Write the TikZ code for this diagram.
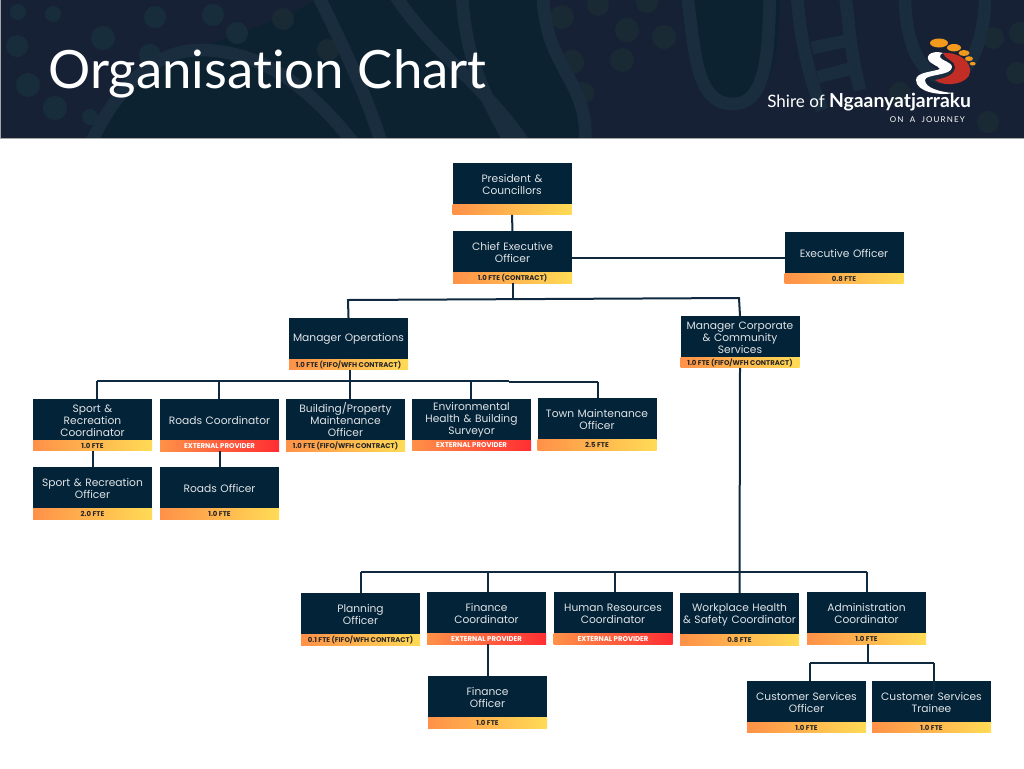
\documentclass[tikz,border=0pt]{standalone}
\usepackage{fontspec}
\setmainfont{Poppins}
\newfontfamily\titlefont[Ligatures=CommonOff]{Lato}
\newfontfamily\mottofont[LetterSpace=14]{Lato}
\usepackage{tikz}
\usetikzlibrary{positioning}
\definecolor{boxnavy}{HTML}{032338}
\definecolor{linenavy}{HTML}{0F2A40}
\definecolor{headdark}{HTML}{0C2231}
\definecolor{headmid}{HTML}{172135}
\definecolor{bandblue}{HTML}{192D3E}
\definecolor{dotblue}{HTML}{172D3C}
\definecolor{dotgreen}{HTML}{1A2A34}
\definecolor{barorange}{HTML}{FF9148}
\definecolor{baryellow}{HTML}{FFDB55}
\definecolor{barred}{HTML}{FF2E33}
\definecolor{toeorange}{HTML}{F39A1E}
\definecolor{footred}{HTML}{C22D26}
\tikzset{
  staffbox/.style={fill=boxnavy,text=white!88!boxnavy,minimum width=89.25pt,minimum height=31pt,inner sep=0pt,outer sep=0pt,
    text width=89pt,text height=7.1pt,align=center,font=\fontsize{8}{9}\selectfont},
  ftebar/.style={left color=barorange,right color=baryellow,text=black!85,minimum width=89.25pt,minimum height=8pt,inner sep=0pt,outer sep=0pt,
    font=\fontsize{5.2}{5.5}\selectfont\bfseries},
  extbar/.style={ftebar,right color=barred,text=white},
  orgline/.style={draw=linenavy,line width=1.5pt},
  bandline/.style={draw=bandblue,line width=9.5pt}
}
\begin{document}
\begin{tikzpicture}[x=0.75pt,y=-0.75pt]
    \useasboundingbox (0,0) rectangle (1024,768);
    \fill[white] (0,0) rectangle (1024,768);
    \fill[headdark] (0,0) rectangle (1024,138);
    \begin{scope}
        \clip (1,0) rectangle (1024,138);
        \fill[headmid] (0,0) -- (315,0) .. controls (250,40) and (130,50) .. (90,138) -- (0,138) -- cycle;
        \fill[headmid] (540,0) -- (680,0) .. controls (690,60) and (700,110) .. (733,110) .. controls (770,110) and (780,50) .. (780,0) -- (1024,0) -- (1024,138) -- (590,138) .. controls (590,90) and (550,60) .. (540,0) -- cycle;
        \foreach \x/\y/\r in {18/12/8,53/14/8,17/46/11,28/85/12,55/108/12,103/38/12,155/17/11,213/15/11,237/33/11,150/55/11,90/117/8}{
            \fill[dotblue] (\x,\y) circle (\r);
        }
        \foreach \x/\y/\r in {283/19/11,328/50/11,562/17/12,598/5/11,627/30/12,647/2/11,664/37/12,572/62/12,622/60/12,583/93/11,993/38/11,1020/33/11,1017/73/11,988/122/11,900/93/11}{
            \fill[dotgreen] (\x,\y) circle (\r);
        }
        \draw[bandline] (90,145) .. controls (120,80) and (160,50) .. (200,50) .. controls (270,50) and (320,100) .. (355,145);
        \draw[bandline] (318,-5) .. controls (340,40) and (365,90) .. (382,145);
        \draw[bandline] (395,-5) .. controls (430,50) and (490,90) .. (525,145);
        \draw[bandline] (462,-5) .. controls (465,50) and (480,90) .. (512,145);
        \draw[bandline] (543,-5) .. controls (545,70) and (590,80) .. (585,145);
        \draw[bandline] (687,-5) .. controls (695,50) and (695,104) .. (733,104) .. controls (770,104) and (768,40) .. (770,-5);
        \draw[bandline] (797,-5) .. controls (800,40) and (810,80) .. (822,110);
        \draw[bandline] (845,-5) .. controls (850,30) and (850,50) .. (860,90);
        \draw[bandline] (905,-5) .. controls (905,50) and (925,78) .. (945,78) .. controls (970,78) and (985,40) .. (985,-5);
        \draw[bandline] (812,48) -- (850,40);
        \draw[bandline] (818,77) -- (853,68);
    \end{scope}
    \fill[black!35] (0,0) rectangle (1,138);
    \fill[black!35] (0,138) rectangle (1024,139);
    \node (charttitle) [anchor=base west,text=white,inner sep=0pt,font=\titlefont\fontsize{39.6}{40}\selectfont] at (48,88) {Organisation Chart};
    \fill[toeorange] (939,43) ellipse (9 and 4.5);
    \fill[toeorange] (954,47.7) ellipse (7 and 3.7);
    \fill[toeorange] (964,53) ellipse (5.5 and 3);
    \fill[toeorange] (969,58.7) ellipse (4 and 2.4);
    \fill[toeorange] (972.7,63.7) ellipse (3 and 1.8);
    \fill[footred] (943,53) .. controls (960,52) and (971,62) .. (970,72) .. controls (969,84) and (945,88) .. (935,80) .. controls (945,78) and (955,75) .. (955,67) .. controls (955,60) and (945,60) .. (943,53) -- cycle;
    \fill[white] (938,52) .. controls (926,52) and (925,60) .. (933,64) .. controls (936,66) and (939,67) .. (940,69) .. controls (933,72) and (916,72) .. (916,80) .. controls (916,92) and (940,96) .. (953,93) .. controls (940,92) and (925,88) .. (925,80) .. controls (925,74) and (952,76) .. (952,67) .. controls (952,62) and (940,60) .. (940,57) .. controls (940,55) and (941,53) .. (943,53) -- cycle;
    \node (shirename) [anchor=base west,text=white,inner sep=0pt,font=\titlefont\fontsize{12.8}{13}\selectfont] at (767,107) {Shire of {\fontsize{14.5}{13}\selectfont\bfseries Ngaanyatjarraku}};
    \node (shiremotto) [anchor=base east,text=white,inner sep=0pt,font=\mottofont\fontsize{6}{6}\selectfont] at (965,122) {ON\ \ A\ \ JOURNEY};

    \node (pres) [staffbox] at (512,183.5) {President \&\\Councillors};
    \node (presfte) [ftebar,below=0pt of pres] {};
    \node (ceo) [staffbox] at (512.5,252) {Chief Executive\\Officer};
    \node (ceofte) [ftebar,below=0pt of ceo] {1.0 FTE (CONTRACT)};
    \node (exec) [staffbox] at (844,252.5) {Executive Officer};
    \node (execfte) [ftebar,below=0pt of exec] {0.8 FTE};
    \node (mgrops) [staffbox] at (348.5,338.5) {Manager Operations};
    \node (mgropsfte) [ftebar,below=0pt of mgrops] {1.0 FTE (FIFO/WFH CONTRACT)};
    \node (mgrcorp) [staffbox] at (740,336.5) {Manager Corporate\\\& Community\\Services};
    \node (mgrcorpfte) [ftebar,below=0pt of mgrcorp] {1.0 FTE (FIFO/WFH CONTRACT)};
    \node (sport) [staffbox] at (92.5,419.5) {Sport \&\\Recreation\\Coordinator};
    \node (sportfte) [ftebar,below=0pt of sport] {1.0 FTE};
    \node (roads) [staffbox] at (219.5,420) {Roads Coordinator};
    \node (roadsfte) [extbar,below=0pt of roads] {EXTERNAL PROVIDER};
    \node (build) [staffbox] at (345.5,420) {Building/Property\\Maintenance\\Officer};
    \node (buildfte) [ftebar,below=0pt of build] {1.0 FTE (FIFO/WFH CONTRACT)};
    \node (env) [staffbox] at (471.5,419.5) {Environmental\\Health \& Building\\Surveyor};
    \node (envfte) [extbar,below=0pt of env] {EXTERNAL PROVIDER};
    \node (town) [staffbox] at (597,419) {Town Maintenance\\Officer};
    \node (townfte) [ftebar,below=0pt of town] {2.5 FTE};
    \node (sportoff) [staffbox] at (92.5,488) {Sport \& Recreation\\Officer};
    \node (sportofffte) [ftebar,below=0pt of sportoff] {2.0 FTE};
    \node (roadsoff) [staffbox] at (219.5,488) {Roads Officer};
    \node (roadsofffte) [ftebar,below=0pt of roadsoff] {1.0 FTE};
    \node (plan) [staffbox] at (360.5,614) {Planning\\Officer};
    \node (planfte) [ftebar,below=0pt of plan] {0.1 FTE (FIFO/WFH CONTRACT)};
    \node (fincoord) [staffbox] at (486.5,613) {Finance\\Coordinator};
    \node (fincoordfte) [extbar,below=0pt of fincoord] {EXTERNAL PROVIDER};
    \node (hr) [staffbox] at (613,613) {Human Resources\\Coordinator};
    \node (hrfte) [extbar,below=0pt of hr] {EXTERNAL PROVIDER};
    \node (whs) [staffbox] at (739.5,614) {Workplace Health\\\& Safety Coordinator};
    \node (whsfte) [ftebar,below=0pt of whs] {0.8 FTE};
    \node (admin) [staffbox] at (866.5,613) {Administration\\Coordinator};
    \node (adminfte) [ftebar,below=0pt of admin] {1.0 FTE};
    \node (finoff) [staffbox] at (487.5,697) {Finance\\Officer};
    \node (finofffte) [ftebar,below=0pt of finoff] {1.0 FTE};
    \node (custoff) [staffbox] at (806.5,701.5) {Customer Services\\Officer};
    \node (custofffte) [ftebar,below=0pt of custoff] {1.0 FTE};
    \node (trainee) [staffbox] at (931.5,701.5) {Customer Services\\Trainee};
    \node (traineefte) [ftebar,below=0pt of trainee] {1.0 FTE};

    \coordinate (execjoin) at (785,258);
    \coordinate (ceojoin) at (512.5,299);
    \coordinate (opsjoin) at (348,300);
    \coordinate (corpjoin) at (739,298);
    \coordinate (opsbusa) at (97,380.7);
    \coordinate (opsbusb) at (219,380.7);
    \coordinate (opsbusc) at (349.5,380.7);
    \coordinate (opsbusd) at (471,380.7);
    \coordinate (opsbuse) at (509,380.7);
    \coordinate (opsbusf) at (509,381.7);
    \coordinate (opsbusg) at (598,381.7);
    \coordinate (corpbusa) at (361,572);
    \coordinate (corpbusb) at (488,572);
    \coordinate (corpbusc) at (615,572);
    \coordinate (corpbusd) at (867,572);
    \coordinate (adminjoin) at (867.7,663);
    \coordinate (adminbusa) at (810,663);
    \coordinate (adminbusb) at (934,663);

    \draw[orgline] (presfte.south) -- (ceo.north);
    \draw[orgline] (ceo.east |- execjoin) -- (execjoin);
    \draw[orgline] (ceofte.south) -- (ceojoin);
    \draw[orgline] (mgrops.north) -- (opsjoin) -- (corpjoin) -- (mgrcorp.north);
    \draw[orgline] (opsbusc |- mgropsfte.south) -- (opsbusc);
    \draw[orgline] (opsbusa) -- (opsbuse);
    \draw[orgline] (opsbusf) -- (opsbusg);
    \draw[orgline] (opsbusa) -- (opsbusa |- sport.north);
    \draw[orgline] (opsbusb) -- (opsbusb |- roads.north);
    \draw[orgline] (opsbusc) -- (opsbusc |- build.north);
    \draw[orgline] (opsbusd) -- (opsbusd |- env.north);
    \draw[orgline] (opsbusg) -- (opsbusg |- town.north);
    \draw[orgline] (sportfte.south) -- (sportoff.north);
    \draw[orgline] (roadsfte.south) -- (roadsoff.north);
    \draw[orgline] (mgrcorpfte.south) -- (whs.north);
    \draw[orgline] (corpbusa) -- (corpbusd);
    \draw[orgline] (corpbusa) -- (corpbusa |- plan.north);
    \draw[orgline] (corpbusb) -- (corpbusb |- fincoord.north);
    \draw[orgline] (corpbusc) -- (corpbusc |- hr.north);
    \draw[orgline] (corpbusd) -- (corpbusd |- admin.north);
    \draw[orgline] (corpbusb |- fincoordfte.south) -- (corpbusb |- finoff.north);
    \draw[orgline] (adminjoin |- adminfte.south) -- (adminjoin);
    \draw[orgline] (adminbusa) -- (adminbusb);
    \draw[orgline] (adminbusa) -- (adminbusa |- custoff.north);
    \draw[orgline] (adminbusb) -- (adminbusb |- trainee.center);
\end{tikzpicture}
\end{document}
